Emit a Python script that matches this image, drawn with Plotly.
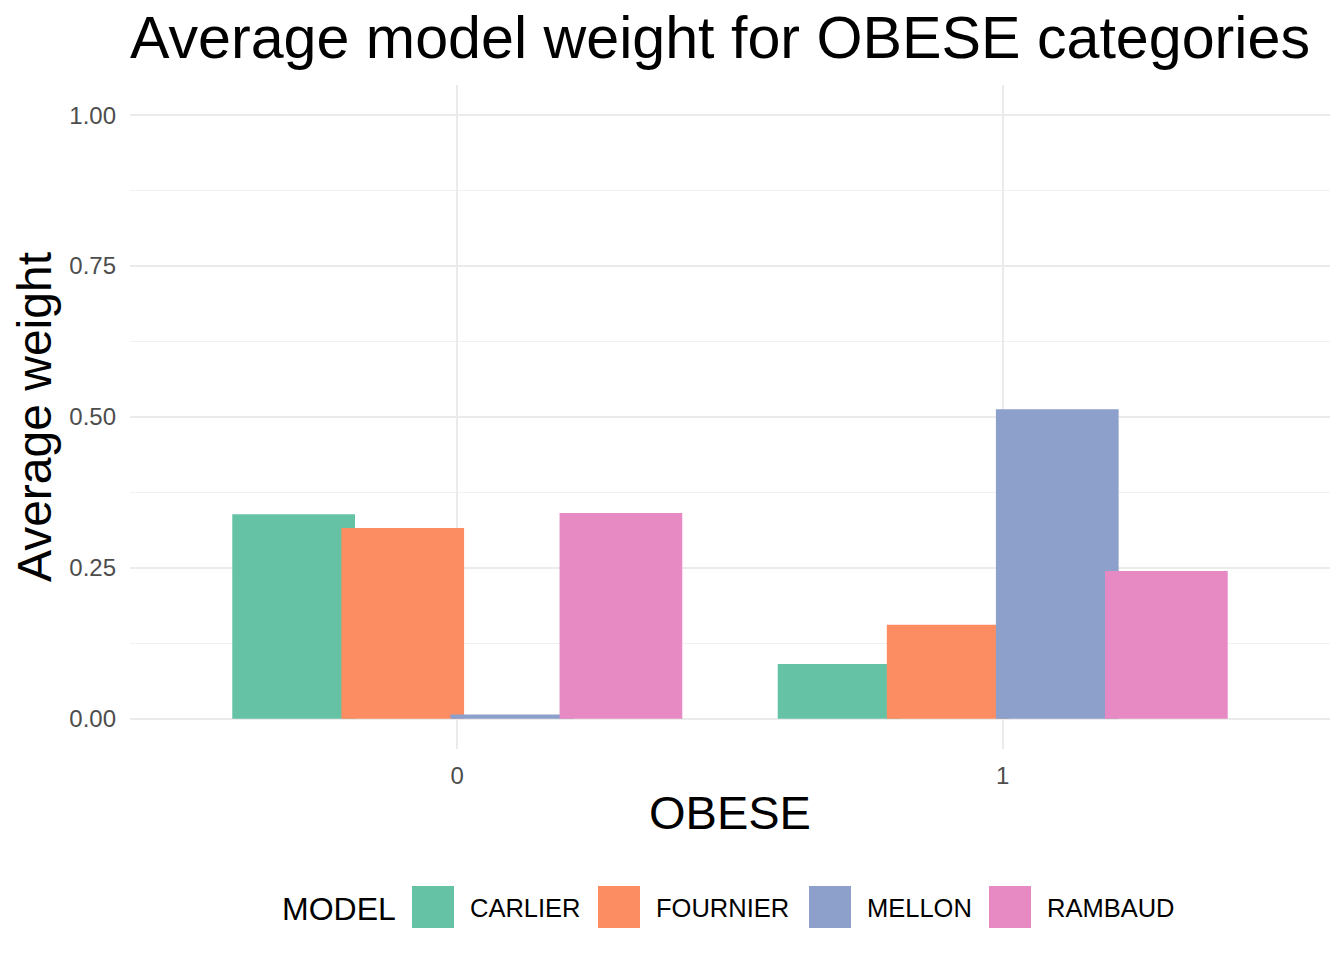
import plotly.graph_objects as go

# ---- data ----
categories = [0, 1]
category_labels = ["0", "1"]
models = ["CARLIER", "FOURNIER", "MELLON", "RAMBAUD"]
carlier = [0.339, 0.091]
fournier = [0.316, 0.156]
mellon = [0.007, 0.513]
rambaud = [0.341, 0.245]
series = [carlier, fournier, mellon, rambaud]
colors = ["#66C2A5", "#FC8D62", "#8DA0CB", "#E78AC3"]
y_ticks = [0, 0.25, 0.5, 0.75, 1.0]
y_tick_labels = ["0.00", "0.25", "0.50", "0.75", "1.00"]

FONT = "Liberation Sans, Arial, sans-serif"
W, H = 1344, 960
ML, MR, MT, MB = 130, 14, 85, 211

dodge = 0.8
bar_w = 0.225
n = len(models)

fig = go.Figure()
for i, (name, vals, col) in enumerate(zip(models, series, colors)):
    center = -dodge / 2 + dodge / n * (i + 0.5)
    fig.add_trace(go.Bar(
        x=categories, y=vals, name=name,
        width=[bar_w] * len(categories),
        offset=[center - bar_w / 2] * len(categories),
        marker=dict(color=col, line=dict(width=0)),
        showlegend=False,
    ))

# ---- manual legend (ggplot-style big keys) ----
def px_x(p):
    return (p - ML) / (W - ML - MR)

def px_y(p):
    return (H - MB - p) / (H - MT - MB)

key_left = [412, 598, 809, 989]
key_size = 42
key_top = 886
text_left = [468, 654, 865, 1045]
shapes = []
annotations = []
for i, (name, col) in enumerate(zip(models, colors)):
    shapes.append(dict(type="rect", xref="paper", yref="paper",
                       x0=px_x(key_left[i]), x1=px_x(key_left[i] + key_size),
                       y0=px_y(key_top + key_size), y1=px_y(key_top),
                       fillcolor=col, line=dict(width=0), layer="above"))
    annotations.append(dict(xref="paper", yref="paper",
                            x=px_x(text_left[i]), y=px_y(key_top + key_size / 2 + 1),
                            xanchor="left", yanchor="middle", showarrow=False,
                            text=name, font=dict(family=FONT, size=25.5, color="black")))
annotations.append(dict(xref="paper", yref="paper",
                        x=px_x(280), y=px_y(key_top + key_size / 2 + 2),
                        xanchor="left", yanchor="middle", showarrow=False,
                        text="MODEL", font=dict(family=FONT, size=32, color="black")))

fig.update_layout(
    width=W, height=H,
    margin=dict(l=ML, r=MR, t=MT, b=MB),
    paper_bgcolor="white", plot_bgcolor="white",
    barmode="overlay",
    title=dict(text="Average model weight for OBESE categories",
               x=ML / W, xanchor="left", xref="container",
               y=1 - 37 / H, yanchor="middle", yref="container",
               font=dict(family=FONT, size=59.2, color="black")),
    font=dict(family=FONT),
    shapes=shapes,
    annotations=annotations,
    xaxis=dict(range=[-0.6, 1.6], tickvals=categories, ticktext=category_labels,
               showgrid=True, gridcolor="#EBEBEB", gridwidth=2,
               zeroline=False, showline=False, ticks="",
               tickfont=dict(family=FONT, size=24, color="#4D4D4D"),
               ticklabelstandoff=10,
               title=dict(text="OBESE", standoff=8,
                          font=dict(family=FONT, size=47, color="black"))),
    yaxis=dict(range=[-0.05, 1.05], tickvals=y_ticks, ticktext=y_tick_labels,
               showgrid=True, gridcolor="#EBEBEB", gridwidth=2,
               minor=dict(tickvals=[0.125, 0.375, 0.625, 0.875], showgrid=True,
                          gridcolor="#F0F0F0", gridwidth=1, ticks=""),
               zeroline=False, showline=False, ticks="",
               tickfont=dict(family=FONT, size=24, color="#4D4D4D"),
               ticklabelstandoff=13,
               title=dict(text="Average weight", standoff=2,
                          font=dict(family=FONT, size=48, color="black"))),
)

fig.write_html("out.html", config={"displayModeBar": False},
               post_script="document.body.style.margin='0';document.body.style.overflow='hidden';")
